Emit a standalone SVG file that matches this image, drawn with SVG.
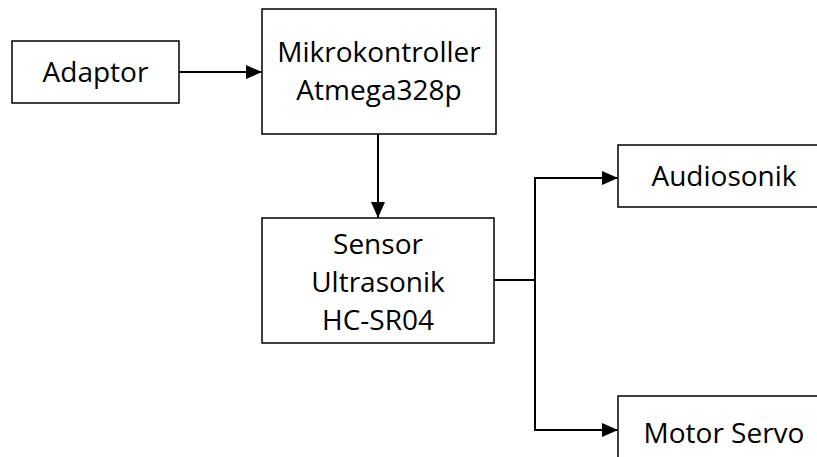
<svg xmlns="http://www.w3.org/2000/svg" width="817" height="457" viewBox="0 0 817 457">
<style>
.box{fill:#fff;stroke:#000;stroke-width:1.5}
.lbl{font-family:"Open Sans","Liberation Sans",sans-serif;font-size:28px;fill:#000;text-anchor:middle}
.wire{fill:none;stroke:#000;stroke-width:2}
</style>
<defs>
<marker id="arr" markerWidth="16" markerHeight="14" refX="16" refY="7" orient="auto" markerUnits="userSpaceOnUse">
<path d="M0,0 L16,7 L0,14 Z" fill="#000"/>
</marker>
</defs>
<rect width="817" height="457" fill="#fff"/>
<g id="connectors">
<line class="wire" x1="179" y1="72" x2="262" y2="72" marker-end="url(#arr)"/>
<line class="wire" x1="378" y1="134" x2="378" y2="218" marker-end="url(#arr)"/>
<polyline class="wire" points="494,280 535,280"/>
<polyline class="wire" points="535,280 535,178 618,178" marker-end="url(#arr)"/>
<polyline class="wire" points="535,280 535,430 618,430" marker-end="url(#arr)"/>
</g>
<g id="adaptor">
<rect class="box" x="12" y="41" width="167" height="62"/>
<text class="lbl" x="95.5" y="82">Adaptor</text>
</g>
<g id="mikrokontroller">
<rect class="box" x="262" y="9" width="234" height="125"/>
<text class="lbl" x="379" y="62">Mikrokontroller</text>
<text class="lbl" x="379" y="100">Atmega328p</text>
</g>
<g id="sensor">
<rect class="box" x="262" y="218" width="232" height="125"/>
<text class="lbl" x="378" y="254">Sensor</text>
<text class="lbl" x="378" y="292">Ultrasonik</text>
<text class="lbl" x="378" y="330">HC-SR04</text>
</g>
<g id="audiosonik">
<rect class="box" x="618" y="145" width="210" height="62"/>
<text class="lbl" x="724" y="186">Audiosonik</text>
</g>
<g id="motor-servo">
<rect class="box" x="618" y="396" width="210" height="80"/>
<text class="lbl" x="724" y="443">Motor Servo</text>
</g>
</svg>
